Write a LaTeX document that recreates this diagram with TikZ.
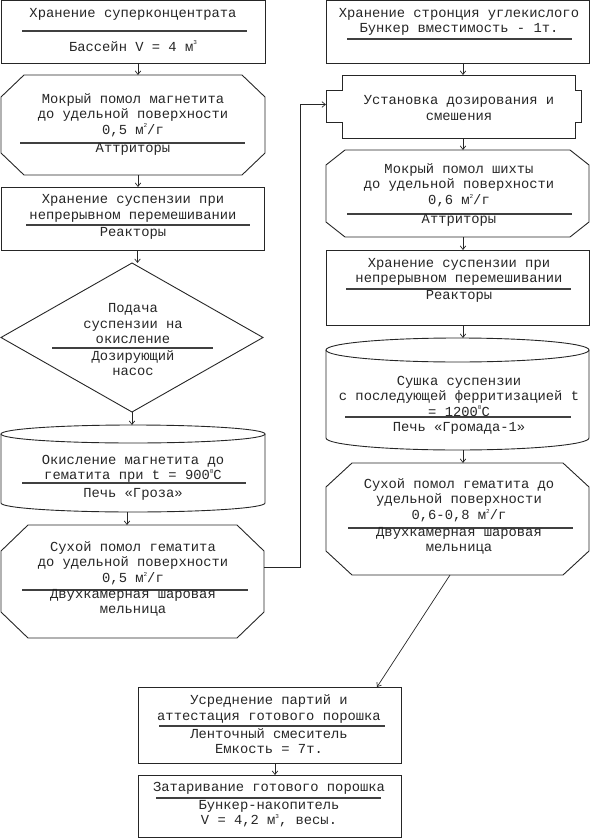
\documentclass[tikz,border=0pt]{standalone}
\usepackage{fontspec}
\newfontfamily\mono{Liberation Mono}
\usetikzlibrary{fit,arrows.meta}
\tikzset{
  frame/.style={inner sep=0pt, outer sep=0pt},
  boxr/.style={frame, draw=black!85, line width=0.9pt},
  shp/.style={draw=black!85, line width=0.9pt},
  txt/.style={font=\mono\fontsize{13.8}{15.5}\selectfont, align=center, inner sep=0pt, text=black!85},
  rul/.style={draw=black!75, line width=1.3pt},
  arr/.style={draw=black!85, line width=0.7pt, -{Straight Barb[length=3.5pt,width=5.5pt]}},
}
\newcommand\octa[3]{\draw[shp] ([xshift=#2]#1.north west) -- ([xshift=-#2]#1.north east) -- ([yshift=-#3]#1.north east) -- ([yshift=#3]#1.south east) -- ([xshift=-#2]#1.south east) -- ([xshift=#2]#1.south west) -- ([yshift=#3]#1.south west) -- ([yshift=-#3]#1.north west) -- cycle;}
\newcommand\cyl[3]{\draw[shp] ([yshift=-#3]#1.north) ellipse [x radius=#2, y radius=#3];
  \draw[shp] ([yshift=-#3]#1.north west) -- ([yshift=#3]#1.south west) arc [start angle=180, end angle=360, x radius=#2, y radius=#3] -- ([yshift=-#3]#1.north east);}
\newcommand\sq[1]{\raisebox{0.85ex}{\fontsize{6}{6}\selectfont #1}}
\begin{document}
\begin{tikzpicture}[x=1pt,y=-1pt]
\useasboundingbox (0,0) rectangle (590,840);
% ---------- shapes ----------
\node[boxr, fit={(1,0) (265,63)}] (b1) {};
\node[frame, fit={(1,75) (265,175)}] (o2) {};
\octa{o2}{23pt}{22pt}
\node[boxr, fit={(1,187) (264,250)}] (b3) {};
\node[frame, fit={(1,263) (263,412)}] (d4) {};
\draw[shp] (d4.north) -- (d4.east) -- (d4.south) -- (d4.west) -- cycle;
\node[frame, fit={(1,425) (265,512)}] (c5) {};
\cyl{c5}{132pt}{9pt}
\node[frame, fit={(1,525) (264,638)}] (o6) {};
\octa{o6}{27pt}{26pt}
\node[boxr, fit={(326,0) (589,63)}] (b7) {};
\node[frame, fit={(326,75) (581,138)}] (p8) {};
\draw[shp] ([xshift=16pt]p8.north west) -- ([xshift=-6pt]p8.north east) -- ([xshift=-6pt,yshift=-15pt]p8.north east) -- ([yshift=-15pt]p8.north east) -- ([yshift=16pt]p8.south east) -- ([xshift=-6pt,yshift=16pt]p8.south east) -- ([xshift=-6pt]p8.south east) -- ([xshift=16pt]p8.south west) -- ([xshift=16pt,yshift=16pt]p8.south west) -- ([yshift=16pt]p8.south west) -- ([yshift=-15pt]p8.north west) -- ([xshift=16pt,yshift=-15pt]p8.north west) -- cycle;
\node[frame, fit={(326,150) (589,237)}] (o9) {};
\octa{o9}{19pt}{15pt}
\node[boxr, fit={(326,250) (589,325)}] (b10) {};
\node[frame, fit={(326,338) (589,450)}] (c11) {};
\cyl{c11}{131.5pt}{12pt}
\node[frame, fit={(326,463) (589,575)}] (o12) {};
\octa{o12}{26pt}{24pt}
\node[boxr, fit={(138,687) (401,763)}] (b13) {};
\node[boxr, fit={(138,775) (401,837)}] (b14) {};
% ---------- texts ----------
\node[txt] (t1a) at (133,14) {Хранение суперконцентрата};
\draw[rul] (22,31) -- (247,31);
\node[txt] (t1b) at (133,46) {Бассейн V = 4 м\sq{3}};
\node[txt] (t2a) at (133,115) {Мокрый помол магнетита\\до удельной поверхности\\0,5 м\sq{2}/г};
\draw[rul] (20,143) -- (245,143);
\node[txt] (t2b) at (133,149) {Аттриторы};
\node[txt] (t3a) at (133,208.5) {Хранение суспензии при\\непрерывном перемешивании};
\draw[rul] (26,225) -- (250,225);
\node[txt] (t3b) at (133,233) {Реакторы};
\node[txt] (t4a) at (133,324) {Подача\\суспензии на\\окисление};
\draw[rul] (52,348) -- (213,348);
\node[txt] (t4b) at (133,363) {Дозирующий\\насос};
\node[txt] (t5a) at (133,469) {Окисление магнетита до\\гематита при t = 900\sq{0}C};
\draw[rul] (22,483) -- (246,483);
\node[txt] (t5b) at (133,494) {Печь «Гроза»};
\node[txt] (t6a) at (133,563) {Сухой помол гематита\\до удельной поверхности\\0,5 м\sq{2}/г};
\draw[rul] (22,590) -- (248,590);
\node[txt] (t6b) at (133,603) {Двухкамерная шаровая\\мельница};
\node[txt] (t7a) at (459,22) {Хранение стронция углекислого\\Бункер вместимость - 1т.};
\draw[rul] (347,39) -- (572,39);
\node[txt] (t8) at (459,108) {Установка дозирования и\\смешения};
\node[txt] (t9a) at (459,185) {Мокрый помол шихты\\до удельной поверхности\\0,6 м\sq{2}/г};
\draw[rul] (347,214) -- (572,214);
\node[txt] (t9b) at (459,220) {Аттриторы};
\node[txt] (t10a) at (459,272) {Хранение суспензии при\\непрерывном перемешивании};
\draw[rul] (346,289) -- (571,289);
\node[txt] (t10b) at (459,296) {Реакторы};
\node[txt] (t11a) at (459,396) {Сушка суспензии\\с последующей ферритизацией t\\= 1200\sq{0}C};
\draw[rul] (345,417) -- (571,417);
\node[txt] (t11b) at (459,428) {Печь «Громада-1»};
\node[txt] (t12a) at (459,500) {Сухой помол гематита до\\удельной поверхности\\0,6-0,8 м\sq{2}/г};
\draw[rul] (348,528) -- (573,528);
\node[txt] (t12b) at (459,541) {Двухкамерная шаровая\\мельница};
\node[txt] (t13a) at (269,709) {Усреднение партий и\\аттестация готового порошка};
\draw[rul] (159,726) -- (385,726);
\node[txt] (t13b) at (269,741) {Ленточный смеситель\\Емкость = 7т.};
\node[txt] (t14a) at (269,788) {Затаривание готового порошка};
\draw[rul] (156,798) -- (381,798);
\node[txt] (t14b) at (269,813.5) {Бункер-накопитель\\V = 4,2 м\sq{3}, весы.};
% ---------- connectors ----------
\draw[arr] ([xshift=5pt]b1.south) -- ([xshift=5pt]o2.north);
\draw[arr] ([xshift=5pt]o2.south) -- ([xshift=5pt]o2.south |- b3.north);
\draw[arr] ([xshift=5pt]b3.south) -- ([xshift=5pt]b3.south |- d4.north);
\draw[arr] (d4.south) -- (d4.south |- c5.north);
\draw[arr] ([xshift=-6pt]c5.south) -- ([xshift=-6pt]c5.south |- o6.north);
\draw[arr] ([yshift=14.5pt]o6.east) -- ++(36pt,0) |- ([yshift=2pt]p8.west);
\draw[arr] ([xshift=5.5pt]b7.south) -- ([xshift=5.5pt]b7.south |- p8.north);
\draw[arr] ([xshift=5.5pt]b7.south |- p8.south) -- ([xshift=5.5pt]b7.south |- o9.north);
\draw[arr] ([xshift=5.5pt]o9.south) -- ([xshift=5.5pt]b10.north);
\draw[arr] ([xshift=5.5pt]b10.south) -- ([xshift=5.5pt]c11.north);
\draw[arr] ([xshift=5.5pt]c11.south) -- ([xshift=5.5pt]o12.north);
\draw[arr] ([xshift=-7.5pt]o12.south) -- ([xshift=107.5pt]b13.north);
\draw[arr] ([xshift=5.5pt]b13.south) -- ([xshift=5.5pt]b14.north);
\end{tikzpicture}
\end{document}
